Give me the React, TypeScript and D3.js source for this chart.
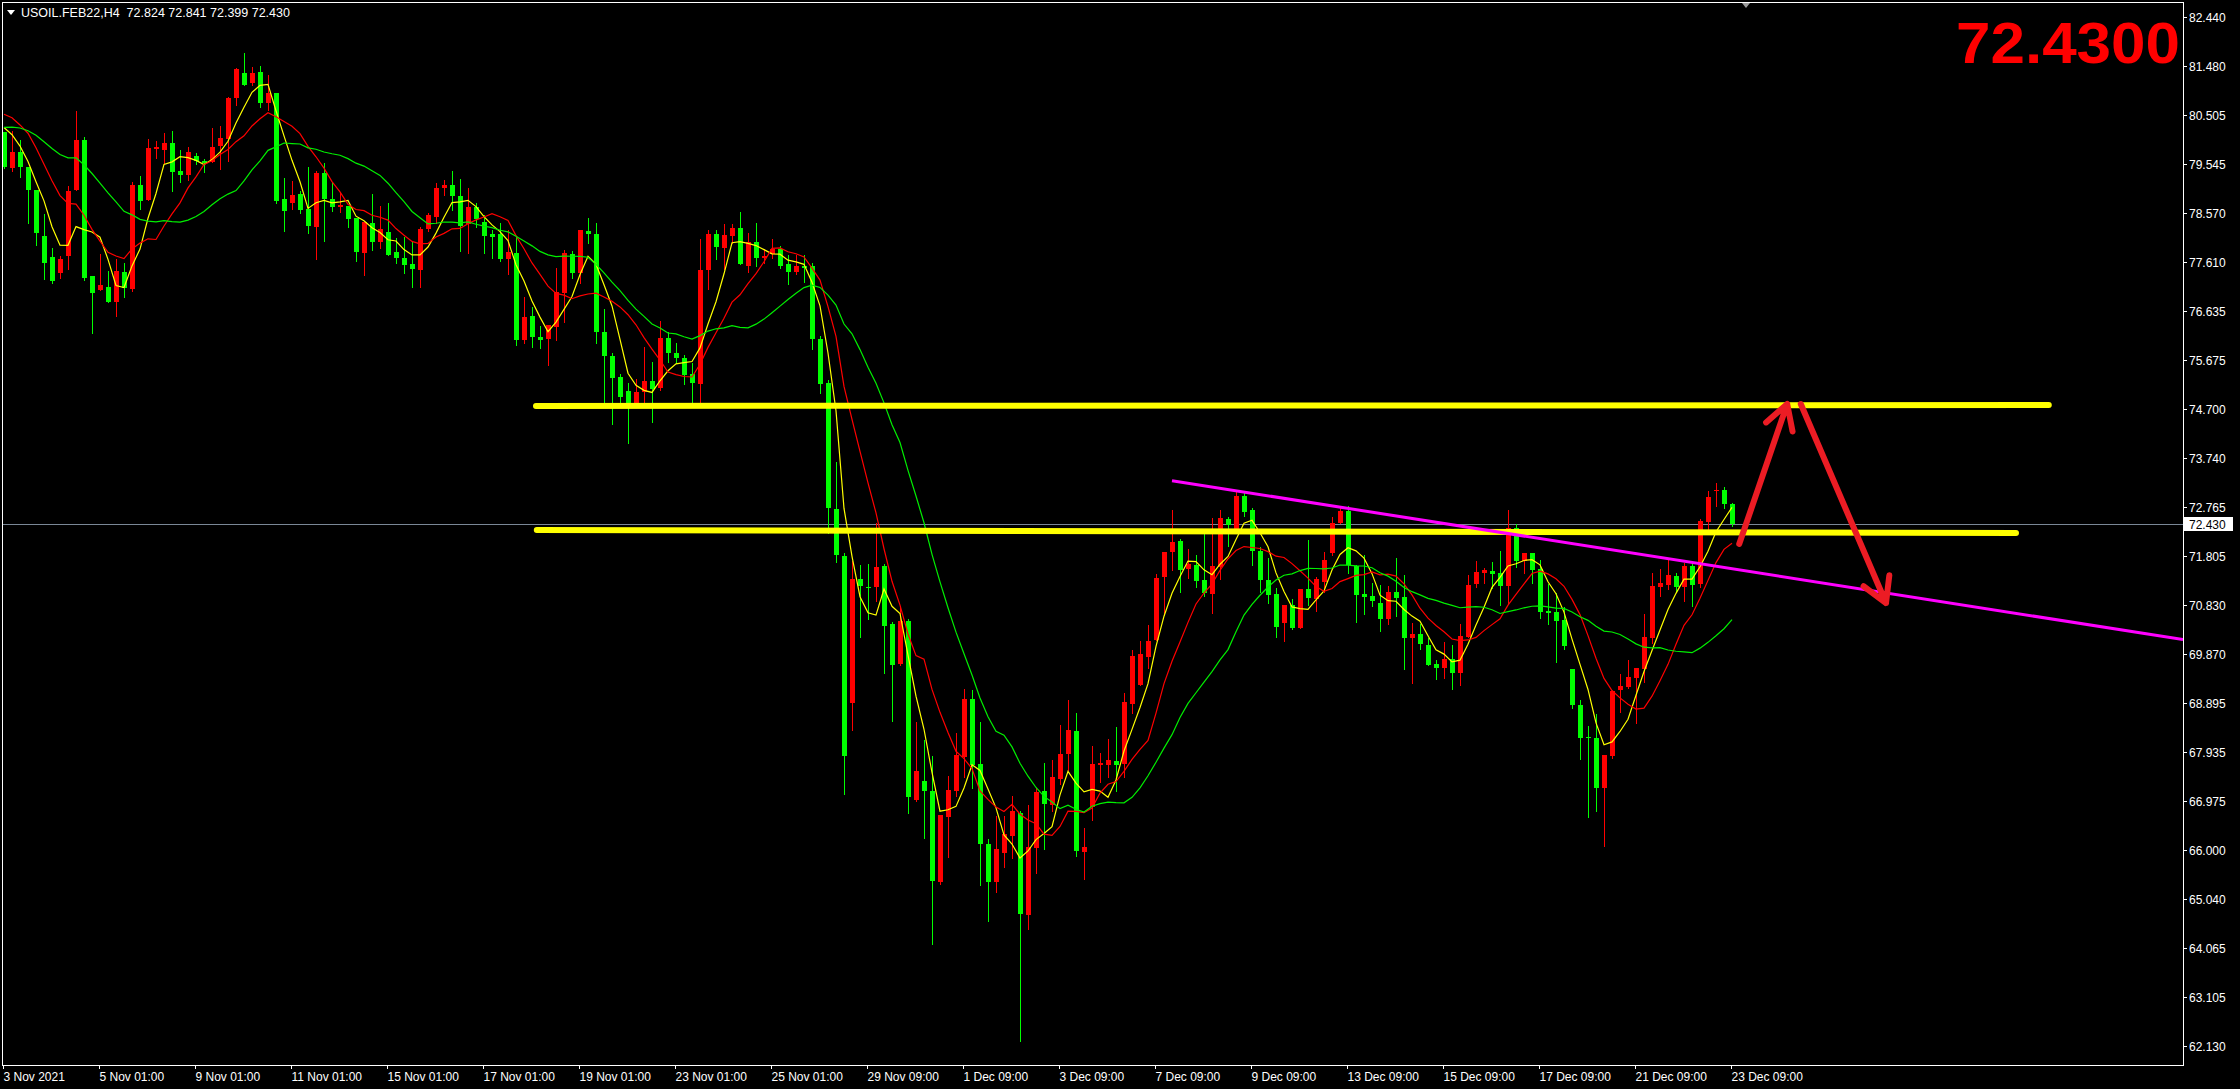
import React, { useEffect, useRef } from 'react';
import * as d3 from 'd3';

// header / big label
const symbolLine = 'USOIL.FEB22,H4  72.824 72.841 72.399 72.430';
const bigPriceText = '72.4300';
const currentPrice = 72.43;
const currentPriceText = '72.430';

// H4 candles, 3 Nov 2021 -> 23 Dec 2021
const opens = [
  80.177, 79.466, 79.782, 79.486, 79.025, 78.118, 77.703, 77.381, 77.730, 79.032,
  80.019, 77.328, 77.058, 77.111, 76.822, 77.407, 77.072, 79.131, 78.828, 79.835,
  79.815, 79.953, 79.401, 79.328, 79.697, 79.598, 79.585, 79.894, 80.025, 80.835,
  81.335, 81.131, 81.354, 80.736, 80.947, 78.848, 78.775, 78.947, 78.651, 78.302,
  79.361, 78.848, 78.697, 78.710, 78.480, 77.789, 78.374, 78.006, 78.197, 77.802,
  77.684, 77.565, 77.447, 78.256, 78.500, 79.072, 79.124, 78.907, 78.348, 78.684,
  78.394, 78.157, 78.157, 77.664, 77.782, 76.065, 76.539, 76.124, 76.078, 76.328,
  76.986, 77.763, 77.394, 78.217, 78.159, 76.218, 75.747, 75.341, 75.056, 74.815,
  75.034, 75.253, 75.111, 76.098, 75.802, 75.714, 75.396, 75.187, 77.447, 78.159,
  77.874, 78.126, 78.269, 77.523, 77.995, 77.688, 77.765, 77.852, 77.556, 77.403,
  77.523, 77.523, 76.076, 75.220, 72.731, 71.799, 68.893, 71.349, 71.185, 71.185,
  71.602, 70.460, 69.677, 70.509, 66.984, 67.351, 67.161, 65.363, 66.653, 67.161,
  67.830, 68.979, 67.689, 66.117, 65.363, 65.948, 66.279, 66.724, 64.714, 66.047,
  67.161, 66.879, 67.407, 67.901, 68.338, 65.962, 66.843, 67.675, 67.675, 67.746,
  67.689, 68.888, 69.261, 69.804, 70.136, 71.390, 71.886, 72.097, 71.544, 71.623,
  71.327, 71.051, 71.590, 72.531, 72.281, 72.985, 72.709, 71.899, 71.327, 71.051,
  70.485, 70.833, 70.386, 71.150, 70.959, 71.294, 71.853, 72.458, 72.689, 71.610,
  71.044, 71.011, 70.866, 70.564, 71.083, 70.991, 70.189, 70.261, 70.044, 69.669,
  69.597, 69.761, 69.499, 70.209, 71.249, 71.472, 71.505, 71.459, 71.216, 72.347,
  71.703, 71.854, 71.545, 70.716, 70.696, 70.538, 69.571, 68.860, 68.235, 68.216,
  67.229, 67.860, 69.157, 69.209, 69.400, 69.571, 70.189, 71.196, 71.229, 71.413,
  71.196, 71.604, 71.249, 72.479, 73.091, 73.104, 72.824,
];
const highs = [
  80.180, 80.197, 80.012, 79.486, 79.025, 78.552, 77.881, 77.723, 79.111, 80.591,
  80.072, 77.328, 77.769, 77.427, 77.670, 77.578, 79.183, 79.302, 80.039, 79.999,
  80.151, 80.190, 79.815, 79.874, 79.762, 79.644, 80.249, 80.295, 80.868, 81.433,
  81.736, 81.460, 81.473, 81.302, 80.947, 79.262, 79.203, 79.000, 79.486, 79.401,
  79.552, 79.190, 78.993, 78.710, 78.480, 78.394, 78.947, 78.710, 78.769, 78.072,
  78.098, 78.026, 78.289, 78.578, 79.157, 79.223, 79.401, 79.243, 79.065, 78.776,
  78.526, 78.236, 78.368, 78.236, 78.105, 76.920, 76.717, 76.342, 76.361, 77.486,
  77.842, 77.829, 78.236, 78.466, 78.379, 76.679, 75.813, 75.396, 75.209, 75.297,
  75.933, 75.626, 76.449, 76.229, 76.010, 75.769, 75.604, 78.061, 78.236, 78.236,
  78.346, 78.346, 78.587, 78.170, 78.379, 77.852, 78.061, 77.929, 77.743, 77.743,
  77.743, 77.578, 76.142, 75.275, 73.652, 71.854, 71.711, 71.623, 71.634, 72.457,
  71.637, 70.495, 70.812, 70.558, 68.521, 68.169, 67.851, 66.688, 67.464, 68.310,
  69.170, 69.156, 68.521, 66.223, 66.667, 66.667, 67.069, 66.773, 66.893, 67.231,
  67.717, 67.781, 68.465, 68.958, 68.712, 66.434, 68.042, 67.915, 68.183, 68.423,
  69.099, 69.945, 70.122, 70.439, 71.440, 71.884, 72.709, 72.136, 71.939, 71.820,
  72.228, 72.544, 72.709, 72.577, 73.103, 73.070, 72.741, 71.972, 71.755, 71.163,
  70.833, 70.945, 71.150, 72.116, 71.390, 71.886, 72.577, 72.755, 72.787, 71.623,
  71.820, 71.261, 71.228, 71.208, 71.755, 71.426, 70.472, 70.459, 70.189, 69.748,
  70.097, 70.044, 70.459, 71.426, 71.703, 71.558, 71.683, 71.900, 72.709, 72.426,
  71.854, 71.854, 71.722, 71.242, 71.064, 70.801, 69.571, 68.959, 68.452, 68.676,
  67.874, 69.143, 69.466, 69.749, 69.597, 70.650, 71.459, 71.538, 71.755, 71.459,
  71.657, 71.643, 72.525, 73.084, 73.249, 73.157, 72.841,
];
const lows = [
  79.450, 79.407, 79.289, 78.381, 77.947, 77.262, 77.183, 77.295, 77.466, 79.032,
  77.249, 76.196, 77.058, 76.822, 76.545, 76.920, 77.039, 78.657, 78.828, 79.657,
  79.552, 79.012, 79.190, 79.223, 79.539, 79.388, 79.578, 79.434, 79.604, 80.710,
  81.104, 81.091, 80.670, 80.604, 78.762, 78.223, 78.644, 78.578, 78.184, 77.664,
  78.026, 78.611, 78.598, 78.302, 77.631, 77.355, 77.842, 77.875, 77.750, 77.592,
  77.394, 77.118, 77.118, 78.217, 78.368, 78.927, 78.631, 77.828, 77.789, 78.302,
  77.776, 77.690, 77.625, 77.368, 75.967, 76.013, 75.921, 75.901, 75.572, 76.065,
  76.427, 77.283, 77.197, 77.986, 76.010, 74.837, 74.398, 74.837, 74.036, 74.750,
  74.782, 74.453, 75.078, 75.626, 75.604, 75.187, 74.837, 74.837, 77.063, 77.655,
  77.469, 77.984, 77.556, 77.414, 77.523, 77.578, 77.688, 77.490, 77.161, 77.359,
  77.216, 75.878, 75.023, 72.260, 71.678, 67.105, 68.367, 70.209, 70.560, 70.921,
  69.501, 68.535, 69.649, 66.738, 66.963, 66.244, 64.150, 65.328, 65.856, 67.055,
  67.442, 67.231, 65.314, 64.601, 65.173, 65.666, 65.842, 62.226, 64.432, 65.553,
  66.019, 66.773, 67.302, 67.584, 65.871, 65.433, 66.597, 67.337, 67.442, 67.161,
  67.442, 68.712, 69.261, 69.593, 70.136, 70.629, 71.524, 71.097, 71.360, 71.195,
  71.011, 70.682, 71.347, 71.998, 72.248, 72.590, 71.623, 71.097, 70.866, 70.209,
  70.130, 70.360, 70.386, 70.833, 70.722, 71.097, 71.820, 72.445, 71.458, 70.504,
  70.656, 70.814, 70.327, 70.465, 70.623, 69.564, 69.288, 69.958, 69.649, 69.366,
  69.386, 69.169, 69.255, 70.209, 71.196, 71.275, 71.163, 70.834, 70.867, 71.591,
  71.459, 71.275, 70.584, 70.453, 69.703, 69.966, 68.795, 67.788, 66.643, 66.775,
  66.084, 67.821, 68.729, 69.190, 68.498, 69.321, 70.078, 71.012, 71.143, 71.110,
  70.913, 70.814, 71.196, 72.295, 72.795, 72.755, 72.399,
];
const closes = [
  79.486, 79.782, 79.486, 79.025, 78.170, 77.591, 77.236, 77.664, 79.006, 80.019,
  77.295, 76.999, 77.151, 76.822, 77.433, 77.098, 79.131, 78.815, 79.861, 79.881,
  79.960, 79.388, 79.322, 79.776, 79.604, 79.552, 79.874, 80.058, 80.848, 81.414,
  81.104, 81.341, 80.749, 80.947, 78.808, 78.618, 78.933, 78.631, 78.322, 79.361,
  78.848, 78.697, 78.730, 78.460, 77.809, 78.394, 78.006, 78.256, 77.750, 77.690,
  77.546, 77.473, 78.256, 78.532, 79.065, 79.118, 78.914, 78.322, 78.684, 78.453,
  78.118, 78.105, 77.664, 77.802, 76.065, 76.519, 76.124, 76.072, 76.361, 77.013,
  77.782, 77.394, 78.236, 78.164, 76.229, 75.747, 75.308, 74.946, 74.815, 75.034,
  75.253, 75.100, 76.098, 75.802, 75.714, 75.374, 75.209, 77.447, 78.159, 77.907,
  78.137, 78.269, 77.556, 77.995, 77.688, 77.732, 77.852, 77.523, 77.403, 77.523,
  77.490, 76.076, 75.198, 72.753, 71.821, 67.851, 71.349, 71.218, 71.163, 71.591,
  70.425, 69.649, 70.509, 67.041, 67.548, 67.161, 65.384, 66.688, 67.182, 67.880,
  68.979, 67.675, 66.124, 65.363, 66.012, 66.315, 66.773, 64.743, 66.054, 67.139,
  66.914, 67.442, 67.887, 68.373, 65.976, 66.054, 67.689, 67.710, 67.774, 67.675,
  68.916, 69.825, 69.868, 70.121, 71.369, 71.884, 72.084, 71.524, 71.643, 71.314,
  71.077, 71.603, 72.557, 72.412, 72.985, 72.676, 71.899, 71.327, 71.031, 70.406,
  70.833, 70.386, 71.150, 70.965, 71.340, 71.722, 72.445, 72.689, 71.623, 71.037,
  70.998, 70.919, 70.564, 71.083, 70.978, 70.189, 70.261, 70.057, 69.649, 69.597,
  69.761, 69.498, 70.222, 71.229, 71.485, 71.525, 71.446, 71.216, 72.347, 71.703,
  71.854, 71.525, 70.703, 70.683, 70.525, 70.032, 68.860, 68.216, 68.202, 67.229,
  67.874, 69.143, 69.242, 69.413, 69.597, 70.209, 71.216, 71.275, 71.426, 71.196,
  71.604, 71.229, 72.492, 72.959, 73.104, 72.821, 72.430,
];
// closes before the visible window, estimated from where the averages start
const priorCloses = [
  79.62, 79.85, 80.10, 79.94, 80.21, 79.88, 80.05, 80.32, 79.96, 80.07,
  80.45, 80.92, 80.66, 81.05, 80.82, 80.50, 80.60, 80.55, 80.16,
];

const maPeriods = [5, 10, 20];
const maColors = ['#ffff00', '#ff0000', '#00ee00'];

const priceTicks = [
  82.44, 81.48, 80.505, 79.545, 78.57, 77.61, 76.635, 75.675, 74.7, 73.74, 72.765,
  71.805, 70.83, 69.87, 68.895, 67.935, 66.975, 66.0, 65.04, 64.065, 63.105, 62.13,
];
const timeLabels = [
  '3 Nov 2021', '5 Nov 01:00', '9 Nov 01:00', '11 Nov 01:00', '15 Nov 01:00',
  '17 Nov 01:00', '19 Nov 01:00', '23 Nov 01:00', '25 Nov 01:00', '29 Nov 09:00',
  '1 Dec 09:00', '3 Dec 09:00', '7 Dec 09:00', '9 Dec 09:00', '13 Dec 09:00',
  '15 Dec 09:00', '17 Dec 09:00', '21 Dec 09:00', '23 Dec 09:00',
];
const barsPerLabel = 12;

// hand drawn objects, as [bar index, price]
const resistanceLine = [[66.5, 74.762], [255.6, 74.78]];
const supportLine = [[66.6, 72.314], [251.5, 72.255]];
const trendLine = [[146, 73.287], [216, 71.55]];
const arrowUp = [[216.9, 72.038], [222.9, 74.801]];
const arrowDown = [[224.6, 74.801], [235.25, 70.873]];

const W = 2240;
const H = 1089;
const left = 2;
const top = 2;
const right = 2183;
const bottom = 1065;

export default function App() {
  const ref = useRef<SVGGElement>(null);

  useEffect(() => {
    const g = d3.select(ref.current);
    g.selectAll('*').remove();

    const x = d3.scaleLinear().domain([0, 216]).range([4, 1732]);
    const y = d3.scaleLinear().domain([62.13, 82.44]).range([1046, 17]);

    const plot = g.append('g').attr('clip-path', 'url(#plot-clip)');

    // current price line
    const cy = Math.round(y(currentPrice)) + 0.5;
    plot.append('line')
      .attr('x1', left).attr('x2', right).attr('y1', cy).attr('y2', cy)
      .attr('stroke', '#7a8796').attr('stroke-width', 1);

    // candles
    const idx = d3.range(opens.length);
    const candles = plot.append('g').attr('shape-rendering', 'crispEdges');
    candles.selectAll('line.wick')
      .data(idx)
      .join('line')
      .attr('class', 'wick')
      .attr('x1', (i) => Math.round(x(i)) + 0.5)
      .attr('x2', (i) => Math.round(x(i)) + 0.5)
      .attr('y1', (i) => Math.round(y(highs[i])))
      .attr('y2', (i) => Math.round(y(lows[i])) + 1)
      .attr('stroke', (i) => (closes[i] >= opens[i] ? '#ff0000' : '#00ff00'))
      .attr('stroke-width', 1);
    candles.selectAll('rect.body')
      .data(idx)
      .join('rect')
      .attr('class', 'body')
      .attr('x', (i) => Math.round(x(i)) - 2)
      .attr('width', 5)
      .attr('y', (i) => Math.round(y(Math.max(opens[i], closes[i]))))
      .attr('height', (i) => Math.max(1, Math.round(y(Math.min(opens[i], closes[i]))) - Math.round(y(Math.max(opens[i], closes[i])))))
      .attr('fill', (i) => (closes[i] >= opens[i] ? '#ff0000' : '#00ff00'));

    // moving averages
    const all = priorCloses.concat(closes);
    const off = priorCloses.length;
    maPeriods.forEach((p, k) => {
      const ma = idx.map((i) => d3.mean(all.slice(i + off - p + 1, i + off + 1)) as number);
      const line = d3.line<number>().x((i) => x(i)).y((i) => y(ma[i]));
      plot.append('path')
        .attr('d', line(idx))
        .attr('fill', 'none')
        .attr('stroke', maColors[k])
        .attr('stroke-width', 1.2);
    });

    // horizontal levels
    const seg = d3.line<number[]>().x((d) => x(d[0])).y((d) => y(d[1]));
    [resistanceLine, supportLine].forEach((l) => {
      plot.append('path')
        .attr('d', seg(l))
        .attr('stroke', '#ffff00')
        .attr('stroke-width', 6)
        .attr('stroke-linecap', 'round')
        .attr('fill', 'none');
    });

    // trend line extended to the right
    const [a, b] = trendLine;
    const slope = (b[1] - a[1]) / (b[0] - a[0]);
    const endBar = x.invert(right);
    plot.append('path')
      .attr('d', seg([a, [endBar, a[1] + slope * (endBar - a[0])]]))
      .attr('stroke', '#ff00ff')
      .attr('stroke-width', 3)
      .attr('fill', 'none');

    // arrows
    [arrowUp, arrowDown].forEach((arr) => {
      const x0 = x(arr[0][0]);
      const y0 = y(arr[0][1]);
      const x1 = x(arr[1][0]);
      const y1 = y(arr[1][1]);
      const ang = Math.atan2(y0 - y1, x0 - x1);
      const len = 28;
      const spread = Math.PI / 6;
      const p = d3.path();
      p.moveTo(x0, y0);
      p.lineTo(x1, y1);
      p.moveTo(x1 + len * Math.cos(ang + spread), y1 + len * Math.sin(ang + spread));
      p.lineTo(x1, y1);
      p.lineTo(x1 + len * Math.cos(ang - spread), y1 + len * Math.sin(ang - spread));
      plot.append('path')
        .attr('d', p.toString())
        .attr('stroke', '#ec1c24')
        .attr('stroke-width', 6)
        .attr('stroke-linecap', 'round')
        .attr('stroke-linejoin', 'round')
        .attr('fill', 'none');
    });

    // frame
    g.append('rect')
      .attr('x', left + 0.5).attr('y', top + 0.5)
      .attr('width', right - left).attr('height', bottom - top)
      .attr('fill', 'none').attr('stroke', '#ffffff').attr('stroke-width', 1)
      .attr('shape-rendering', 'crispEdges');

    // price axis
    const axisFont = '"Liberation Sans", Arial, sans-serif';
    priceTicks.forEach((v) => {
      const ty = Math.round(y(v)) + 0.5;
      g.append('line')
        .attr('x1', right).attr('x2', right + 4).attr('y1', ty).attr('y2', ty)
        .attr('stroke', '#ffffff').attr('shape-rendering', 'crispEdges');
      g.append('text')
        .attr('x', right + 6).attr('y', ty + 4.5)
        .attr('fill', '#ffffff').attr('font-family', axisFont).attr('font-size', 12)
        .text(d3.format('.3f')(v));
    });
    g.append('rect')
      .attr('x', right + 1).attr('y', cy - 7.5).attr('width', 49).attr('height', 14)
      .attr('fill', '#ffffff');
    g.append('text')
      .attr('x', right + 6).attr('y', cy + 4.5)
      .attr('fill', '#000000').attr('font-family', axisFont).attr('font-size', 12)
      .text(currentPriceText);

    // time axis
    timeLabels.forEach((t, k) => {
      const tx = Math.round(x(k * barsPerLabel)) - 0.5;
      g.append('line')
        .attr('x1', tx).attr('x2', tx).attr('y1', bottom).attr('y2', bottom + 4)
        .attr('stroke', '#ffffff').attr('shape-rendering', 'crispEdges');
      g.append('text')
        .attr('x', tx).attr('y', bottom + 16)
        .attr('fill', '#ffffff').attr('font-family', axisFont).attr('font-size', 12)
        .text(t);
    });

    // chart shift marker
    const sx = x(217.75);
    g.append('path')
      .attr('d', `M${sx - 4},${top + 1}L${sx + 4},${top + 1}L${sx},${top + 6}Z`)
      .attr('fill', '#9a9a9a');

    // header
    g.append('path').attr('d', 'M7,10L15,10L11,15Z').attr('fill', '#ffffff');
    g.append('text')
      .attr('x', 21).attr('y', 17)
      .attr('fill', '#ffffff').attr('font-family', axisFont).attr('font-size', 12.5)
      .style('white-space', 'pre')
      .text(symbolLine);

    g.append('text')
      .attr('x', 2180).attr('y', 63)
      .attr('text-anchor', 'end')
      .attr('fill', '#ff0000').attr('font-family', axisFont)
      .attr('font-weight', 'bold').attr('font-size', 58)
      .attr('textLength', 224).attr('lengthAdjust', 'spacingAndGlyphs')
      .text(bigPriceText);
  }, []);

  return (
    <div>
      <style>{'body{margin:0;background:#000;}'}</style>
      <svg width={W} height={H} style={{ display: 'block', background: '#000' }}>
        <defs>
          <clipPath id="plot-clip">
            <rect x={left + 1} y={top + 1} width={right - left - 1} height={bottom - top - 1} />
          </clipPath>
        </defs>
        <g ref={ref} />
      </svg>
    </div>
  );
}
